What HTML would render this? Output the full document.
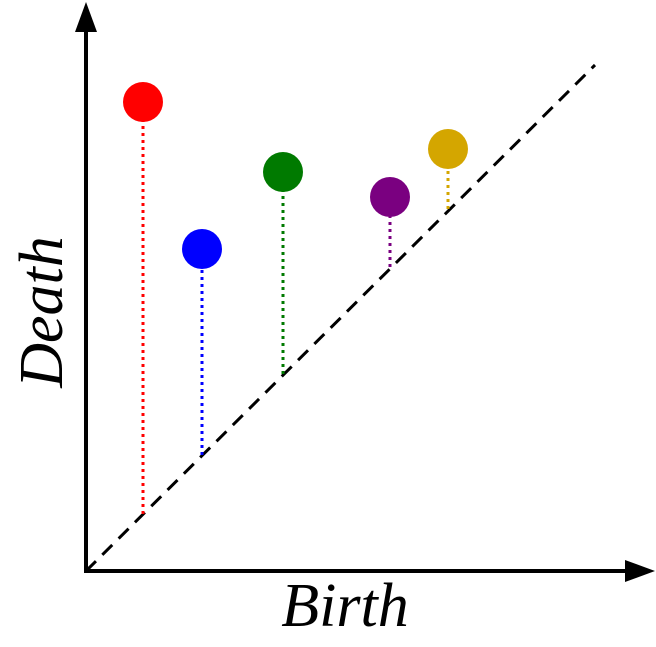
<!DOCTYPE html>
<html><head><meta charset="utf-8"><style>
html,body{margin:0;padding:0;background:#fff;}
svg{display:block;}
</style></head><body>
<svg id="chart" width="656" height="647" viewBox="0 0 656 647" xmlns="http://www.w3.org/2000/svg">
<line x1="86" y1="571" x2="86" y2="30" stroke="#000" stroke-width="4"/>
<polygon points="86,2 75,32 97,32" fill="#000"/>
<line x1="84" y1="571" x2="630" y2="571" stroke="#000" stroke-width="4"/>
<polygon points="655,571 625,560 625,582" fill="#000"/>
<line x1="86" y1="571" x2="595" y2="65" stroke="#000" stroke-width="3" stroke-dasharray="14,9"/>
<g id="marks"></g>
<text x="345" y="626" font-family="Liberation Serif, serif" font-style="italic" font-size="62" text-anchor="middle">Birth</text>
<text transform="translate(62,312) rotate(-90)" font-family="Liberation Serif, serif" font-style="italic" font-size="62" text-anchor="middle">Death</text>
</svg>
<script>
const births = [0.57, 1.16, 1.97, 3.04, 3.62];
const deaths = [4.69, 3.22, 3.99, 3.74, 4.22];
const colors = ["#ff0000", "#0000ff", "#007a00", "#7a0080", "#d4a600"];
const names = ["red", "blue", "green", "purple", "gold"];
const ox = 86, oy = 571, unit = 100;
function xs(v){ return ox + v * unit; }
function ys(v){ return oy - v * unit; }
const g = document.getElementById('marks');
const NS = "http://www.w3.org/2000/svg";
for (let i = 0; i < births.length; i++) {
  const l = document.createElementNS(NS, 'line');
  l.setAttribute('x1', xs(births[i])); l.setAttribute('x2', xs(births[i]));
  l.setAttribute('y1', ys(births[i])); l.setAttribute('y2', ys(deaths[i]));
  l.setAttribute('stroke', colors[i]); l.setAttribute('stroke-width', 3);
  l.setAttribute('stroke-dasharray', '3,4');
  
  
  g.appendChild(l);
}
for (let i = 0; i < births.length; i++) {
  const c = document.createElementNS(NS, 'circle');
  c.setAttribute('cx', xs(births[i])); c.setAttribute('cy', ys(deaths[i]));
  c.setAttribute('r', 20); c.setAttribute('fill', colors[i]);
  
  
  g.appendChild(c);
}
</script>
</body></html>
